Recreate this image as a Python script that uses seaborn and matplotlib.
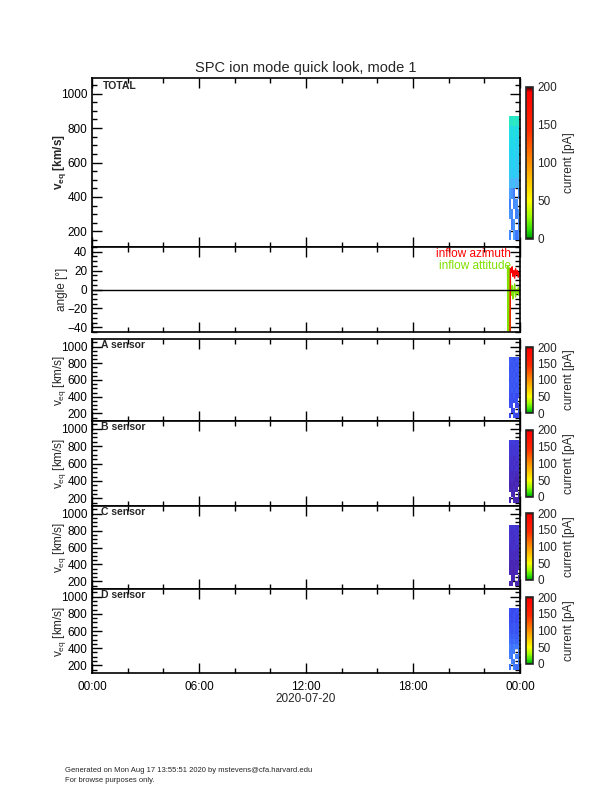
import numpy as np
import matplotlib
matplotlib.use("Agg")
import matplotlib.pyplot as plt
from matplotlib.colors import LinearSegmentedColormap, Normalize
from matplotlib.cm import ScalarMappable
from matplotlib.ticker import MultipleLocator
import seaborn as sns

sns.set_style("ticks")
plt.rcParams['font.family'] = ['Liberation Sans', 'DejaVu Sans']
plt.rcParams['axes.linewidth'] = 1.2

nan = np.nan

# ---------------- data ----------------
title = "SPC ion mode quick look, mode 1"
date_label = "2020-07-20"
time_ticks = [0, 6, 12, 18, 24]
time_tick_labels = ["00:00", "06:00", "12:00", "18:00", "00:00"]
panel_labels = ["TOTAL", "A sensor", "B sensor", "C sensor", "D sensor"]
cbar_ticks = [0, 50, 100, 150, 200]

# spectrogram bin edges (hours, km/s)
spec_time_edges = [23.38, 23.50, 23.62, 23.74, 23.86, 23.96]
vel_edges = [150, 210, 270, 330, 390, 450, 510, 570, 630, 690, 750, 810, 870]

# currents (pA), rows = velocity bins (low -> high), columns = time bins
total_current = [
    [16, nan, 18, 14, 17],
    [nan, 15, 17, nan, 16],
    [17, 16, nan, 15, 18],
    [15, nan, 16, 17, nan],
    [18, 17, 15, nan, 16],
    [22, 21, 23, 20, 22],
    [25, 24, 26, 24, 25],
    [26, 25, 27, 24, 26],
    [27, 26, 28, 25, 27],
    [28, 27, 29, 26, 28],
    [29, 28, 30, 28, 29],
    [33, 32, 34, 32, 33],
]
a_current = [
    [9, nan, 10, 8, 9],
    [nan, 8, 9, nan, 10],
    [10, 9, nan, 8, 9],
    [9, 10, 9, 10, nan],
    [10, 9, 11, 9, 10],
    [10, 11, 10, 11, 10],
    [11, 10, 11, 10, 11],
    [10, 11, 10, 11, 10],
    [11, 10, 11, 10, 11],
    [10, 11, 10, 11, 10],
    [11, 10, 11, 10, 11],
    [11, 11, 10, 11, 11],
]
b_current = [
    [2, nan, 3, 2, 2],
    [nan, 3, 2, nan, 3],
    [3, 2, 4, 2, nan],
    [2, 3, 2, 3, 2],
    [3, 4, 3, 2, 3],
    [4, 3, 4, 3, 4],
    [4, 5, 4, 5, 4],
    [5, 4, 5, 4, 5],
    [5, 5, 4, 5, 5],
    [6, 5, 6, 5, 6],
    [6, 6, 5, 6, 6],
    [7, 6, 7, 6, 7],
]
c_current = [
    [2, 3, nan, 2, 3],
    [nan, 2, 3, nan, 2],
    [3, 2, 2, 3, nan],
    [2, 3, 2, 3, 2],
    [3, 2, 3, 2, 3],
    [3, 4, 3, 4, 3],
    [4, 3, 4, 3, 4],
    [4, 4, 5, 4, 4],
    [5, 4, 4, 5, 5],
    [5, 5, 4, 5, 4],
    [5, 4, 5, 5, 5],
    [6, 5, 6, 5, 6],
]
d_current = [
    [14, nan, 15, 13, 14],
    [nan, 15, 14, nan, 15],
    [15, 14, nan, 15, 14],
    [14, 15, 14, nan, 15],
    [15, 13, 15, 14, 15],
    [13, 12, 13, 12, 13],
    [12, 11, 12, 11, 12],
    [11, 10, 11, 10, 11],
    [10, 10, 11, 10, 10],
    [10, 9, 10, 9, 10],
    [9, 9, 10, 9, 9],
    [10, 9, 9, 10, 9],
]

# inflow angles (deg)
att_time = [23.30, 23.32, 23.34, 23.36, 23.40, 23.43, 23.45, 23.48, 23.52, 23.56,
            23.60, 23.65, 23.70, 23.75, 23.80, 23.85, 23.90, 23.95, 23.99]
att_angle = [24, -44, 24, 20, 22, -44, 18, 2, -6, 4, -10, -2, 6, -8, 0, -4, 2, -6, -1]
azi_time = [23.44, 23.46, 23.52, 23.56, 23.60, 23.65, 23.70, 23.75, 23.80, 23.85,
            23.90, 23.95, 23.99]
azi_angle = [-44, 22, 18, 24, 14, 20, 12, 22, 16, 20, 13, 18, 15]

# ---------------- styles ----------------
cbar_cmap = LinearSegmentedColormap.from_list("cur", [
    (0.0, "#000000"), (0.015, "#00b000"), (0.06, "#30e000"), (0.15, "#a0ff00"),
    (0.25, "#ffff00"), (0.5, "#ff9000"), (0.72, "#ff2a00"), (0.97, "#ff0000"),
    (1.0, "#300000")])
spec_cmap = LinearSegmentedColormap.from_list("spec", [
    (0.0, "#4b1a9a"), (0.12, "#4630c8"), (0.25, "#3a48ef"), (0.4, "#3f7bff"),
    (0.55, "#55b0ff"), (0.75, "#1ed8f0"), (1.0, "#30f0b0")])
spec_norm = Normalize(0, 36)

W, H = 612, 792
fig = plt.figure(figsize=(W / 100, H / 100), dpi=100)

def fx(px):
    return px / W

def fb(py_top, py_bot):
    return 1 - py_bot / H, (py_bot - py_top) / H

left, width = fx(92), fx(520 - 92)
panels_px = [(78, 247), (247, 332), (339, 421), (421, 506), (506, 589), (589, 673)]
cbars_px = [(87, 239), (347, 413), (430, 497), (513, 580), (597, 664)]
ylabel_x = (68 - 92) / (520 - 92)

axes = []
for (t, b) in panels_px:
    bot, h = fb(t, b)
    axes.append(fig.add_axes([left, bot, width, h]))

def style_time_axis(ax, labels=False):
    ax.set_xlim(0, 24)
    ax.set_xticks(time_ticks)
    ax.xaxis.set_minor_locator(MultipleLocator(2))
    ax.tick_params(axis='both', which='both', direction='in', top=True, right=True,
                   labelsize=8.5, width=1.0, colors='black')
    ax.tick_params(which='major', length=7)
    ax.tick_params(which='minor', length=3.5)
    if labels:
        ax.set_xticklabels(time_tick_labels)
        ax.tick_params(axis='x', pad=6)
    else:
        ax.set_xticklabels([])
    for s in ax.spines.values():
        s.set_visible(True)
        s.set_color('black')

spec_data = [total_current, a_current, b_current, c_current, d_current]
spec_axes = [axes[0]] + axes[2:]

for i, (ax, data) in enumerate(zip(spec_axes, spec_data)):
    ax.pcolormesh(spec_time_edges, vel_edges, np.array(data, dtype=float),
                  cmap=spec_cmap, norm=spec_norm, shading='flat')
    ax.set_ylim(110, 1090)
    ax.set_yticks([200, 400, 600, 800, 1000])
    ax.yaxis.set_minor_locator(MultipleLocator(50))
    style_time_axis(ax, labels=(i == 4))
    ax.text(0.025 if i == 0 else 0.02, 0.985, panel_labels[i], transform=ax.transAxes,
            fontsize=7.5, fontweight='bold', va='top', ha='left')
    ax.set_ylabel(r"v$_{\mathregular{eq}}$ [km/s]", fontsize=8.5,
                  fontweight='bold' if i == 0 else 'normal')
    ax.yaxis.set_label_coords(ylabel_x, 0.5)

# angle panel
axa = axes[1]
sns.lineplot(x=att_time, y=att_angle, ax=axa, color="#80e000", lw=1.0,
             estimator=None, sort=False)
sns.lineplot(x=azi_time, y=azi_angle, ax=axa, color="#ff0000", lw=1.0,
             estimator=None, sort=False)
axa.axhline(0, color='black', lw=1.0)
axa.set_ylim(-45, 45)
axa.set_yticks([-40, -20, 0, 20, 40])
axa.yaxis.set_minor_locator(MultipleLocator(5))
style_time_axis(axa)
axa.set_ylabel("angle [°]", fontsize=8.5)
axa.yaxis.set_label_coords(ylabel_x, 0.5)
axa.text(0.978, 0.915, "inflow azimuth", color="#ff0000", transform=axa.transAxes,
         fontsize=8.5, ha='right', va='center')
axa.text(0.978, 0.78, "inflow attitude", color="#80e000", transform=axa.transAxes,
         fontsize=8.5, ha='right', va='center')

axes[-1].set_xlabel(date_label, fontsize=8.5, labelpad=0)

# colorbars
for (t, b) in cbars_px:
    bot, h = fb(t, b)
    cax = fig.add_axes([fx(526), bot, fx(7), h])
    sm = ScalarMappable(norm=Normalize(0, 200), cmap=cbar_cmap)
    cb = fig.colorbar(sm, cax=cax)
    cb.set_ticks(cbar_ticks)
    cb.outline.set_linewidth(1.2)
    cb.ax.tick_params(labelsize=8.5, length=0, pad=3)
    cb.set_label("current [pA]", fontsize=8.5, labelpad=4)

fig.text(0.5, 1 - 68 / H, title, ha='center', va='center', fontsize=10.5)
fig.text(fx(65), 1 - 771 / H, "Generated on Mon Aug 17 13:55:51 2020 by mstevens@cfa.harvard.edu",
         fontsize=5.5, va='center')
fig.text(fx(65), 1 - 781 / H, "For browse purposes only.", fontsize=5.5, va='center')

fig.savefig("out.png", dpi=100)
